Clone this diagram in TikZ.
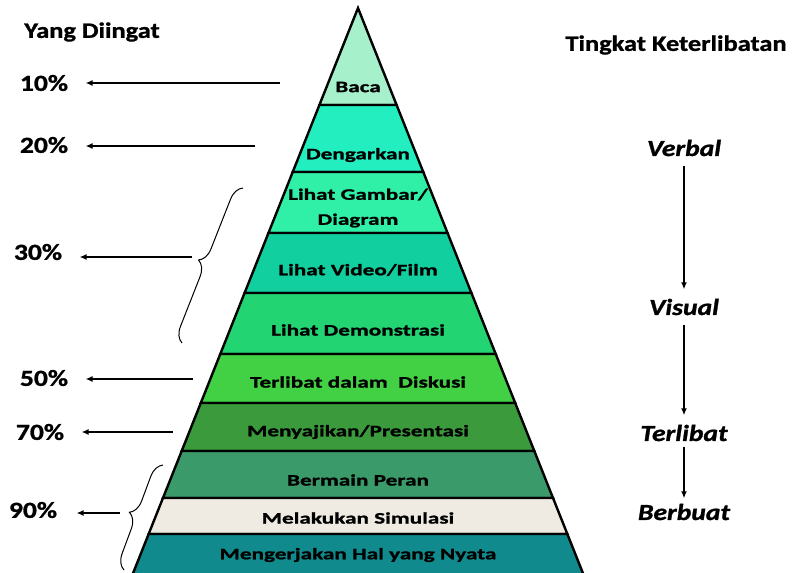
\documentclass[tikz,border=0pt]{standalone}
\usepackage{fontspec}
\setmainfont{Carlito}[FakeStretch=1.2, BoldFeatures={FakeBold=1.2}, BoldItalicFeatures={FakeBold=1.2}]
\newfontfamily\bandfont{Carlito}[FakeStretch=1.45, BoldFeatures={FakeBold=1.2}]
\usetikzlibrary{arrows.meta,decorations.pathreplacing}

\definecolor{bacaC}{HTML}{A6F0CC}
\definecolor{dengarC}{HTML}{22EEC0}
\definecolor{gambarC}{HTML}{30F0A8}
\definecolor{videoC}{HTML}{12CFA0}
\definecolor{demoC}{HTML}{22D472}
\definecolor{diskusiC}{HTML}{42D044}
\definecolor{sajiC}{HTML}{3A9A3C}
\definecolor{peranC}{HTML}{3A9A6A}
\definecolor{simulC}{HTML}{F0EBE2}
\definecolor{nyataC}{HTML}{108A8C}

\tikzset{
  bandtext/.style={font=\bandfont\bfseries\fontsize{16}{25}\selectfont, align=center},
  pct/.style={font=\bfseries\fontsize{23}{25}\selectfont},
  level/.style={font=\bfseries\itshape\fontsize{23}{25}\selectfont},
  header/.style={font=\bfseries\fontsize{22}{24}\selectfont},
  pointer/.style={-{Latex[length=7pt,width=6pt]}, line width=1.6pt},
  curly/.style={decorate, decoration={brace, amplitude=15pt}, line width=1pt},
}

\begin{document}
\begin{tikzpicture}[x=1pt, y=-1pt]
  \useasboundingbox (0,0) rectangle (796,573);

  % pyramid
  \filldraw[fill=bacaC, draw=black, line width=2.4pt] (358,8) -- ({358+0.398*97},105) -- ({358-0.398*97},105) -- cycle;
  \foreach \ytop/\ybot/\col in {105/172/dengarC, 172/233/gambarC, 233/293/videoC, 293/354/demoC,
      354/403/diskusiC, 403/451/sajiC, 451/498/peranC, 498/534/simulC, 534/580/nyataC} {
    \pgfmathsetmacro\xtl{358-0.398*(\ytop-8)}
    \pgfmathsetmacro\xtr{358+0.398*(\ytop-8)}
    \pgfmathsetmacro\xbl{358-0.398*(\ybot-8)}
    \pgfmathsetmacro\xbr{358+0.398*(\ybot-8)}
    \filldraw[fill=\col, draw=black, line width=2.4pt] (\xtl,\ytop) -- (\xtr,\ytop) -- (\xbr,\ybot) -- (\xbl,\ybot) -- cycle;
  }

  \node[bandtext] (baca) at (358,87) {Baca};
  \node[bandtext] (dengar) at (358,155) {Dengarkan};
  \node[bandtext] (gambar) at (358,208) {Lihat Gambar/\\Diagram};
  \node[bandtext] (video) at (358,270) {Lihat Video/Film};
  \node[bandtext] (demo) at (358,330) {Lihat Demonstrasi};
  \node[bandtext] (diskusi) at (358,382) {Terlibat dalam\ \ Diskusi};
  \node[bandtext] (saji) at (358,432) {Menyajikan/Presentasi};
  \node[bandtext] (peran) at (358,480) {Bermain Peran};
  \node[bandtext] (simul) at (358,518) {Melakukan Simulasi};
  \node[bandtext] (nyata) at (358,555) {Mengerjakan Hal yang Nyata};

  % left side
  \node[header] (ingat) at (92,32) {Yang Diingat};
  \node[pct] (p10) at (44,83) {10\%};
  \node[pct] (p20) at (44,145) {20\%};
  \node[pct] (p30) at (38,252) {30\%};
  \node[pct] (p50) at (44,378) {50\%};
  \node[pct] (p70) at (40,432) {70\%};
  \node[pct] (p90) at (33,510) {90\%};

  \coordinate (s10) at (280,83);
  \coordinate (s20) at (255,146);
  \coordinate (s50) at (193,379);
  \coordinate (s70) at (173,432);
  \draw[pointer, shorten >=14pt] (s10) -- (s10 -| p10.east);
  \draw[pointer, shorten >=14pt] (s20) -- (s20 -| p20.east);
  \draw[pointer, shorten >=14pt] (s50) -- (s50 -| p50.east);
  \draw[pointer, shorten >=14pt] (s70) -- (s70 -| p70.east);

  \draw[curly] (182,343) -- (243,188);
  \coordinate (b30) at (192,257);
  \draw[pointer, shorten >=14pt] (b30) -- (b30 -| p30.east);

  \draw[curly] (124,570) -- (163,465);
  \coordinate (b90) at (120,513);
  \draw[pointer, shorten >=16pt] (b90) -- (b90 -| p90.east);

  % right side
  \node[header] (libat) at (676,45) {Tingkat Keterlibatan};
  \node[level] (verbal) at (684,148) {Verbal};
  \node[level] (visual) at (684,307) {Visual};
  \node[level] (terlibat) at (684,433) {Terlibat};
  \node[level] (berbuat) at (684,512) {Berbuat};
  \draw[pointer, shorten <=6pt, shorten >=6pt] (verbal) -- (visual);
  \draw[pointer, shorten <=6pt, shorten >=6pt] (visual) -- (terlibat);
  \draw[pointer, shorten <=2pt, shorten >=2pt] (terlibat) -- (berbuat);
\end{tikzpicture}
\end{document}
